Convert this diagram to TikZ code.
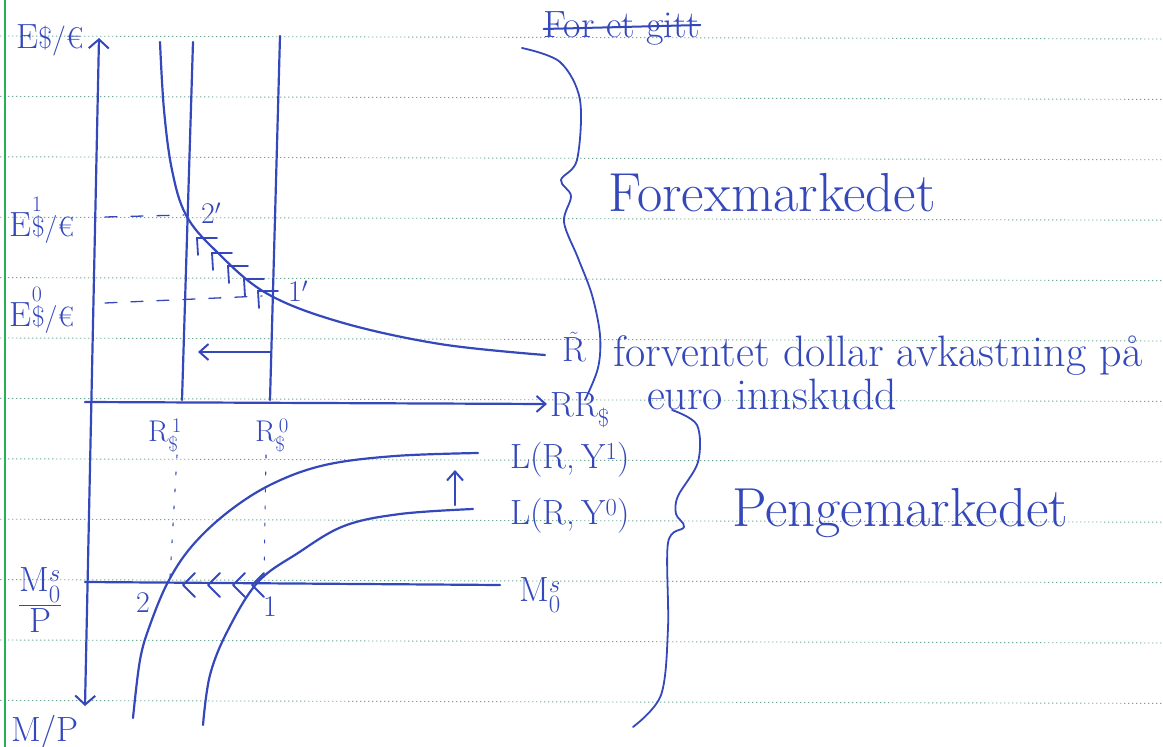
\documentclass[tikz,border=0pt]{standalone}
\usepackage{fontspec}
\usepackage{amsmath}
\usetikzlibrary{arrows.meta}
\definecolor{ink}{RGB}{52,72,188}
\definecolor{ruleline}{RGB}{110,170,150}
\definecolor{marginline}{RGB}{40,175,90}
\newcommand{\fs}[1]{\fontsize{#1}{#1}\selectfont}
\begin{document}
\begin{tikzpicture}[x=1pt,y=-1pt,
  inkline/.style={draw=ink, line width=2.2pt, line cap=round, line join=round},
  thinink/.style={draw=ink, line width=1.3pt, line cap=round},
  barb/.style={-{Straight Barb[length=9pt,width=16pt,line width=2pt]}},
  lbl/.style={text=ink, inner sep=0pt, font=\fs{35}},
  small/.style={text=ink, inner sep=0pt, font=\fs{30}},
  big/.style={text=ink, inner sep=0pt, font=\fs{55}},
  mid/.style={text=ink, inner sep=0pt, font=\fs{44}}]
% page
\fill[white] (0,0) rectangle (1163,747);
\path[use as bounding box] (0,0) rectangle (1163,747);
\foreach \k in {0,...,11}
  \draw[ruleline, line width=0.9pt, dash pattern=on 1.4pt off 2.6pt] (0,{36+60.4*\k}) -- (1163,{39+60.4*\k});
\draw[marginline, line width=1.6pt] (5,0) -- (5,747);

% axes
\coordinate (ytop) at (99,38);
\coordinate (ybot) at (85,706);
\coordinate (xl) at (85,402);
\coordinate (xr) at (547,404);
\draw[inkline, {Straight Barb[length=9pt,width=20pt,line width=2pt]}-{Straight Barb[length=9pt,width=20pt,line width=2pt]}] (ytop) -- (ybot);
\draw[inkline, barb] (xl) -- (xr);

% labels on axes
\node[lbl] (ey) at (50,40) {E{\fs{30}\$/€}};
\node[lbl] (e1) at (42,220) {E\makebox[0pt][l]{\raisebox{0.7em}{\fs{22}1}}{\fs{28}\$/€}};
\node[lbl] (e0) at (42,310) {E\makebox[0pt][l]{\raisebox{0.7em}{\fs{22}0}}{\fs{28}\$/€}};
\node[lbl] (rr) at (580,410) {RR\textsubscript{\$}};
\node[lbl] (rt) at (574,347) {$\tilde{\mathrm{R}}$};
\node[small] (r1) at (165,436) {$\mathrm{R}^{\,1}_{\$}$};
\node[small] (r0) at (272,436) {$\mathrm{R}^{\,0}_{\$}$};
\node[lbl] (msp) at (40,600) {$\dfrac{\mathrm{M}^{s}_{0}}{\mathrm{P}}$};
\node[lbl] (mp) at (45,733) {M/P};
\node[lbl] (ms) at (540,595) {$\mathrm{M}^{s}_{0}$};
\node[lbl] (l1) at (570,460) {L(R,\,Y\textsuperscript{1})};
\node[lbl] (l0) at (570,516) {L(R,\,Y\textsuperscript{0})};
\node[small] (p2) at (143,603) {2};
\node[small] (p1) at (270,607) {1};
\node[small] (q2) at (211,213) {2$'$};
\node[small] (q1) at (298,291) {1$'$};

% upper panel: vertical R lines
\coordinate (v1t) at (193,42); \coordinate (v1b) at (182,400);
\coordinate (v0t) at (280,36); \coordinate (v0b) at (270,400);
\draw[inkline] (v1t) -- (v1b);
\draw[inkline] (v0t) -- (v0b);

% expected return curve
\draw[inkline] plot[smooth, tension=0.6] coordinates {(160,42) (164,110) (172,170) (186,215) (215,250) (266,293) (340,322) (440,344) (545,355)};

% dashed guides
\coordinate (d1a) at (105,217); \coordinate (d1b) at (184,215);
\coordinate (d0a) at (105,303); \coordinate (d0b) at (262,296);
\draw[thinink, dash pattern=on 12pt off 14pt] (d1a) -- (d1b);
\draw[thinink, dash pattern=on 12pt off 14pt] (d0a) -- (d0b);

% movement marks along the curve
\foreach \cx/\cy in {197/238, 212/253, 228/266, 244/279, 258/291}
  \draw[thinink, line width=1.8pt] (\cx+20,\cy) -- (\cx,\cy) -- (\cx+1,\cy+17);

% left arrow
\coordinate (la) at (270,352); \coordinate (lb) at (198,352);
\draw[inkline, barb] (la) -- (lb);

% lower panel: dotted drop lines
\coordinate (o1a) at (177,455); \coordinate (o1b) at (170,578);
\coordinate (o0a) at (266,455); \coordinate (o0b) at (264,578);
\draw[thinink, line width=1.1pt, dash pattern=on 3pt off 14pt] (o1a) -- (o1b);
\draw[thinink, line width=1.1pt, dash pattern=on 3pt off 14pt] (o0a) -- (o0b);

% money supply line
\coordinate (msa) at (85,582); \coordinate (msb) at (500,585);
\draw[inkline] (msa) -- (msb);

% money demand curves
\draw[inkline] plot[smooth, tension=0.6] coordinates {(133,718) (140,660) (150,625) (168,582) (192,546) (228,512) (272,484) (325,465) (395,456) (478,453)};
\draw[inkline] plot[smooth, tension=0.6] coordinates {(203,725) (210,675) (228,630) (258,582) (298,553) (344,526) (400,514) (473,509)};

% shift arrow
\coordinate (ua) at (455,505); \coordinate (ub) at (455,470);
\draw[inkline, barb] (ua) -- (ub);

% chevrons on money supply line
\foreach \cx in {183,208,233,252}
  \draw[inkline, line width=2pt] (\cx+12,573) -- (\cx,585) -- (\cx+12,597);

% braces
\draw[inkline, line width=1.8pt] plot[smooth, tension=0.55] coordinates {(522,48) (560,62) (580,100) (577,160) (561,180) (571,196) (564,222) (578,258) (592,295) (600,335) (598,368) (585,400)};
\draw[inkline, line width=1.8pt] plot[smooth, tension=0.55] coordinates {(672,410) (697,425) (698,462) (678,496) (676,514) (684,527) (668,543) (668,628) (661,695) (633,727)};

% texts
\node[big] (forex) at (772,193) {Forexmarkedet};
\node[big] (penge) at (900,513) {Pengemarkedet};
\node[mid] (fv1) at (878,356) {forventet dollar avkastning på};
\node[mid] (fv2) at (772,394) {euro innskudd};
\node[mid, font=\fs{38}] (gitt) at (622,28) {For et gitt};
\draw[inkline, line width=2pt] ([yshift=-1pt]gitt.west) -- ([yshift=3pt]gitt.east);
\end{tikzpicture}
\end{document}
